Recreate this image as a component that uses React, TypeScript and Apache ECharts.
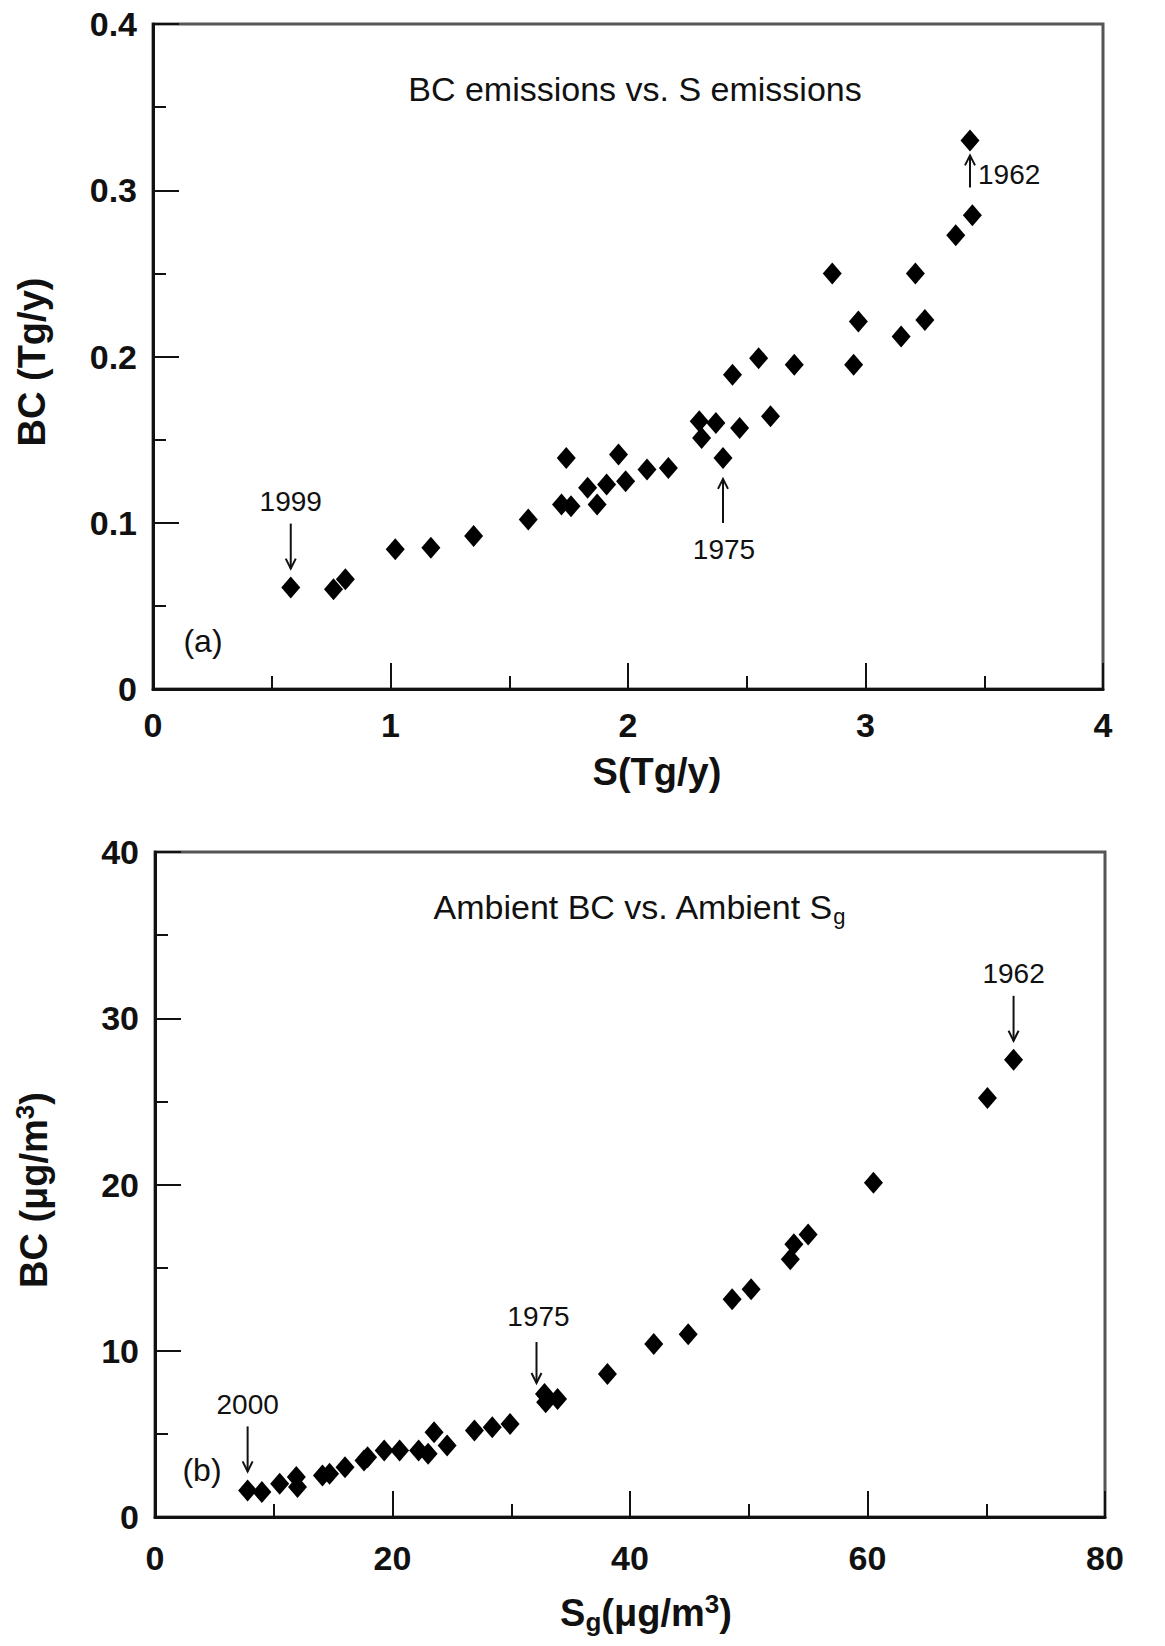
import React, { useEffect, useRef } from "react";
import * as echarts from "echarts";

// Panel (a): BC emissions vs S emissions (Tg/y)
const emisS = [0.58, 0.76, 0.81, 1.02, 1.17, 1.35, 1.58, 1.74, 1.72, 1.76, 1.83, 1.87, 1.91, 1.96, 1.99, 2.08, 2.17, 2.30, 2.31, 2.37, 2.40, 2.47, 2.44, 2.55, 2.60, 2.70, 2.95, 2.86, 2.97, 3.15, 3.21, 3.25, 3.38, 3.45, 3.44];
const emisBC = [0.061, 0.060, 0.066, 0.084, 0.085, 0.092, 0.102, 0.139, 0.111, 0.110, 0.121, 0.111, 0.123, 0.141, 0.125, 0.132, 0.133, 0.161, 0.151, 0.160, 0.139, 0.157, 0.189, 0.199, 0.164, 0.195, 0.195, 0.250, 0.221, 0.212, 0.250, 0.222, 0.273, 0.285, 0.330];

// Panel (b): ambient BC vs ambient Sg (ug/m3)
const ambS = [7.8, 9.0, 10.5, 11.9, 12.0, 14.1, 14.7, 16.0, 17.6, 17.9, 19.3, 20.6, 22.2, 23.0, 23.5, 24.6, 26.9, 28.4, 29.9, 32.8, 32.9, 33.9, 38.1, 42.0, 44.9, 48.6, 50.2, 53.5, 53.8, 55.0, 60.5, 70.1, 72.3];
const ambBC = [1.6, 1.5, 2.0, 2.4, 1.8, 2.5, 2.6, 3.0, 3.4, 3.6, 4.0, 4.0, 4.0, 3.8, 5.1, 4.3, 5.2, 5.4, 5.6, 7.4, 6.9, 7.1, 8.6, 10.4, 11.0, 13.1, 13.7, 15.5, 16.4, 17.0, 20.1, 25.2, 27.5];

// Axis ranges
const axisA = { xMin: 0, xMax: 4, xStep: 1, yMin: 0, yMax: 0.4, yStep: 0.1 };
const axisB = { xMin: 0, xMax: 80, xStep: 20, yMin: 0, yMax: 40, yStep: 10 };

// Year annotations: which point they label
const annotA = [
  { year: "1999", idx: 0, kind: "downAbove" },
  { year: "1975", idx: 20, kind: "upBelow" },
  { year: "1962", idx: 34, kind: "upRight" },
];
const annotB = [
  { year: "2000", idx: 0, kind: "downAbove" },
  { year: "1975", idx: 19, kind: "downAboveLeft" },
  { year: "1962", idx: 32, kind: "downAbove" },
];

const FONT = "'Liberation Sans', Arial, Helvetica, sans-serif";
const INK = "#111";

function makeAxis(gridIndex: number, min: number, max: number, step: number, isX: boolean) {
  return {
    gridIndex,
    type: "value",
    min,
    max,
    interval: step,
    axisLine: { show: true, onZero: false, lineStyle: { color: INK, width: 3 } },
    axisTick: { show: true, inside: true, length: 26, lineStyle: { color: INK, width: 2 } },
    minorTick: { show: true, splitNumber: 2, length: 13, lineStyle: { color: INK, width: 2 } },
    splitLine: { show: false },
    minorSplitLine: { show: false },
    axisLabel: {
      margin: isX ? (gridIndex === 0 ? 19 : 24) : 16,
      fontSize: 34,
      fontWeight: "bold",
      fontFamily: FONT,
      color: INK,
    },
  };
}

export default function App() {
  const ref = useRef<HTMLDivElement>(null);
  useEffect(() => {
    if (!ref.current) return;
    const chart = echarts.init(ref.current, null, { renderer: "svg" });
    const option: any = {
      animation: false,
      backgroundColor: "#fff",
      grid: [
        { left: 153, top: 24, width: 950, height: 665, show: true, borderColor: "#555", borderWidth: 3 },
        { left: 155, top: 852, width: 950, height: 665, show: true, borderColor: "#555", borderWidth: 3 },
      ],
      xAxis: [
        makeAxis(0, axisA.xMin, axisA.xMax, axisA.xStep, true),
        makeAxis(1, axisB.xMin, axisB.xMax, axisB.xStep, true),
      ],
      yAxis: [
        makeAxis(0, axisA.yMin, axisA.yMax, axisA.yStep, false),
        makeAxis(1, axisB.yMin, axisB.yMax, axisB.yStep, false),
      ],
      series: [
        {
          type: "scatter",
          xAxisIndex: 0,
          yAxisIndex: 0,
          symbol: "diamond",
          symbolSize: [19, 22],
          itemStyle: { color: "#000", opacity: 1 },
          data: emisS.map((x, i) => [x, emisBC[i]]),
        },
        {
          type: "scatter",
          xAxisIndex: 1,
          yAxisIndex: 1,
          symbol: "diamond",
          symbolSize: [19, 22],
          itemStyle: { color: "#000", opacity: 1 },
          data: ambS.map((x, i) => [x, ambBC[i]]),
        },
      ],
    };
    chart.setOption(option);

    const graphics: any[] = [];
    const txt = (x: number, y: number, text: string, size: number, extra: any = {}) => ({
      type: "text",
      x,
      y,
      silent: true,
      style: {
        text,
        fontSize: size,
        fontFamily: FONT,
        fill: INK,
        align: "center",
        verticalAlign: "middle",
        ...extra,
      },
    });
    const line = (x1: number, y1: number, x2: number, y2: number) => ({
      type: "line",
      silent: true,
      shape: { x1, y1, x2, y2 },
      style: { stroke: INK, lineWidth: 2 },
    });
    const head = (x: number, tipY: number, down: boolean) => ({
      type: "polyline",
      silent: true,
      shape: {
        points: down
          ? [[x - 5, tipY - 10], [x, tipY], [x + 5, tipY - 10]]
          : [[x - 5, tipY + 10], [x, tipY], [x + 5, tipY + 10]],
      },
      style: { stroke: INK, lineWidth: 2, fill: "none" },
    });

    const addAnnot = (list: any[], xs: number[], ys: number[], gi: number) => {
      list.forEach((a) => {
        const p = chart.convertToPixel({ xAxisIndex: gi, yAxisIndex: gi }, [xs[a.idx], ys[a.idx]]) as number[];
        const [px, py] = p;
        if (a.kind === "downAbove") {
          graphics.push(line(px, py - 64, px, py - 19));
          graphics.push(head(px, py - 19, true));
          graphics.push(txt(px, py - 86, a.year, 28));
        } else if (a.kind === "downAboveLeft") {
          const ax = px - 8;
          graphics.push(line(ax, py - 52, ax, py - 11));
          graphics.push(head(ax, py - 11, true));
          graphics.push(txt(px - 6, py - 77, a.year, 28));
        } else if (a.kind === "upBelow") {
          graphics.push(line(px, py + 65, px, py + 21));
          graphics.push(head(px, py + 21, false));
          graphics.push(txt(px + 1, py + 92, a.year, 28));
        } else if (a.kind === "upRight") {
          graphics.push(line(px, py + 47, px, py + 15));
          graphics.push(head(px, py + 15, false));
          graphics.push(txt(px + 8, py + 34, a.year, 28, { align: "left" }));
        }
      });
    };
    addAnnot(annotA, emisS, emisBC, 0);
    addAnnot(annotB, ambS, ambBC, 1);

    // Titles
    graphics.push(txt(635, 89, "BC emissions vs. S emissions", 34));
    graphics.push(
      txt(639, 907, "{m|Ambient BC vs. Ambient S}{s|g}", 34, {
        rich: {
          m: { fontSize: 34, fontFamily: FONT, fill: INK, lineHeight: 40 },
          s: { fontSize: 22, fontFamily: FONT, fill: INK, lineHeight: 22, verticalAlign: "bottom" },
        },
      })
    );
    // Panel labels
    graphics.push(txt(203, 641, "(a)", 32));
    graphics.push(txt(202, 1470, "(b)", 32));

    // Axis names
    graphics.push(txt(657, 772, "S(Tg/y)", 38, { fontWeight: "bold" }));
    graphics.push({ ...txt(32, 362, "BC (Tg/y)", 38, { fontWeight: "bold" }), rotation: Math.PI / 2 });
    graphics.push(
      txt(646, 1613, "{m|S}{s|g}{m|(\u03bcg/m}{p|3}{m|)}", 38, {
        rich: {
          m: { fontSize: 38, fontWeight: "bold", fontFamily: FONT, fill: INK, lineHeight: 44 },
          s: { fontSize: 26, fontWeight: "bold", fontFamily: FONT, fill: INK, lineHeight: 24, verticalAlign: "bottom" },
          p: { fontSize: 26, fontWeight: "bold", fontFamily: FONT, fill: INK, lineHeight: 26, verticalAlign: "top" },
        },
      })
    );
    graphics.push({
      ...txt(34, 1190, "{m|BC (\u03bcg/m}{p|3}{m|)}", 38, {
        rich: {
          m: { fontSize: 38, fontWeight: "bold", fontFamily: FONT, fill: INK, lineHeight: 44 },
          p: { fontSize: 26, fontWeight: "bold", fontFamily: FONT, fill: INK, lineHeight: 26, verticalAlign: "top" },
        },
      }),
      rotation: Math.PI / 2,
    });

    chart.setOption({ graphic: graphics });
    return () => chart.dispose();
  }, []);
  return (
    <div
      ref={ref}
      style={{ position: "absolute", left: 0, top: 0, width: 1165, height: 1646, background: "#fff" }}
    />
  );
}
